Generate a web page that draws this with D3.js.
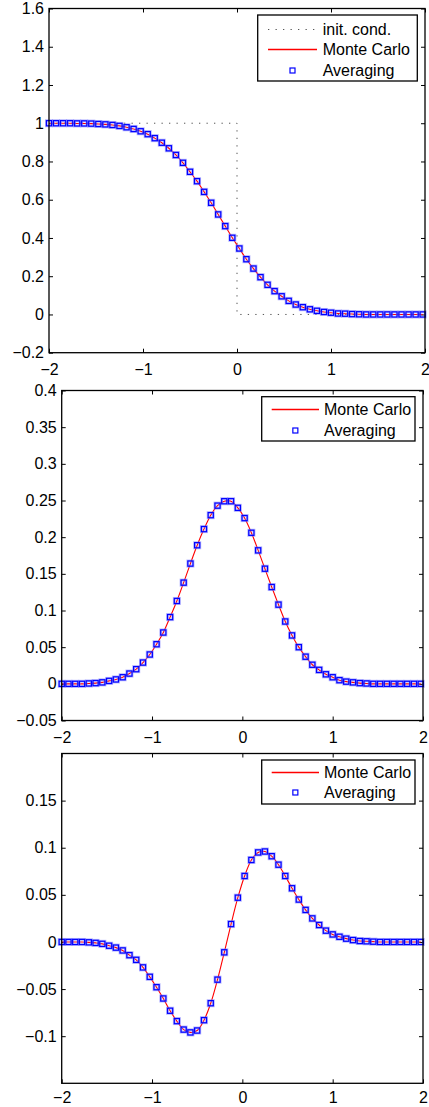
<!DOCTYPE html>
<html lang="en">
<head>
<meta charset="UTF-8">
<title>Monte Carlo vs Averaging</title>
<script src="https://d3js.org/d3.v7.min.js"></script>
<style>
  body { margin: 0; background: #fff; }
  svg text { font-family: "Liberation Sans", Arial, sans-serif; font-size: 16px; fill: #000; }
</style>
</head>
<body>
<svg id="chart" width="429" height="1107"></svg>
<script>
// grid points where the averaged solution is shown
const xGrid = [-2, -1.925, -1.85, -1.775, -1.7, -1.625, -1.55, -1.475, -1.4, -1.325,
  -1.25, -1.175, -1.1, -1.025, -0.95, -0.875, -0.8, -0.725, -0.65, -0.575,
  -0.5, -0.425, -0.35, -0.275, -0.2, -0.125, -0.05, 0.025, 0.1, 0.175,
  0.25, 0.325, 0.4, 0.475, 0.55, 0.625, 0.7, 0.775, 0.85, 0.925,
  1, 1.075, 1.15, 1.225, 1.3, 1.375, 1.45, 1.525, 1.6, 1.675,
  1.75, 1.825, 1.9, 1.975];

// panel 1: solution
const p1Avg = [1.000, 1.000, 1.000, 1.000, 0.999, 0.999, 0.998, 0.996, 0.994, 0.991,
  0.986, 0.979, 0.970, 0.958, 0.943, 0.922, 0.898, 0.869, 0.834, 0.793,
  0.746, 0.697, 0.641, 0.584, 0.523, 0.462, 0.401, 0.345, 0.289, 0.240,
  0.195, 0.155, 0.122, 0.095, 0.071, 0.052, 0.038, 0.027, 0.019, 0.013,
  0.009, 0.005, 0.004, 0.002, 0.001, 0, 0, 0, 0, 0,
  0, 0, 0, 0];
const p1MC = p1Avg;
const initX = [-2, 0, 0, 2];
const initY = [1, 1, 0, 0];

// panel 2
const p2Avg = [0, 0, 0, 0, 0.0005, 0.001, 0.002, 0.004, 0.006, 0.009,
  0.014, 0.020, 0.029, 0.040, 0.054, 0.070, 0.091, 0.113, 0.138, 0.164,
  0.189, 0.211, 0.230, 0.243, 0.249, 0.249, 0.240, 0.226, 0.206, 0.182,
  0.157, 0.132, 0.108, 0.085, 0.066, 0.050, 0.037, 0.026, 0.019, 0.013,
  0.009, 0.005, 0.003, 0.002, 0.001, 0.0005, 0, 0, 0, 0,
  0, 0, 0, 0];
const p2MC = p2Avg;

// panel 3
const p3Avg = [0, 0, 0, 0, -0.0004, -0.001, -0.002, -0.004, -0.006, -0.009,
  -0.014, -0.019, -0.027, -0.037, -0.048, -0.060, -0.073, -0.084, -0.093, -0.096,
  -0.094, -0.083, -0.065, -0.040, -0.011, 0.019, 0.047, 0.070, 0.087, 0.095,
  0.096, 0.091, 0.082, 0.070, 0.057, 0.045, 0.034, 0.025, 0.018, 0.012,
  0.008, 0.0055, 0.0035, 0.002, 0.001, 0.0007, 0.0003, 0, 0, 0,
  0, 0, 0, 0];
const p3MC = p3Avg;

const xTicks = [-2, -1, 0, 1, 2];
const yTicks1 = [-0.2, 0, 0.2, 0.4, 0.6, 0.8, 1, 1.2, 1.4, 1.6];
const yTicks2 = [-0.05, 0, 0.05, 0.1, 0.15, 0.2, 0.25, 0.3, 0.35, 0.4];
const yTicks3 = [-0.1, -0.05, 0, 0.05, 0.1, 0.15];

const svg = d3.select("#chart");
const fmt = d => String(+d.toFixed(2)).replace("-", "\u2212");

function drawPanel(p) {
    const x = d3.scaleLinear().domain([-2, 2]).range([p.left, p.right]);
    const y = d3.scaleLinear().domain(p.yDomain).range([p.bottom, p.top]);
    const g = svg.append("g");
    const tl = 4;

    // ticks inward on all four sides
    g.append("g").attr("transform", "translate(0," + p.bottom + ")")
        .call(d3.axisBottom(x).tickValues(xTicks).tickSizeInner(-tl).tickSizeOuter(0).tickPadding(p.xPad).tickFormat(fmt));
    g.append("g").attr("transform", "translate(0," + p.top + ")")
        .call(d3.axisTop(x).tickValues(xTicks).tickSizeInner(-tl).tickSizeOuter(0).tickFormat(""));
    g.append("g").attr("transform", "translate(" + p.left + ",0)")
        .call(d3.axisLeft(y).tickValues(p.yTicks).tickSizeInner(-tl).tickSizeOuter(0).tickPadding(5).tickFormat(fmt));
    g.append("g").attr("transform", "translate(" + p.right + ",0)")
        .call(d3.axisRight(y).tickValues(p.yTicks).tickSizeInner(-tl).tickSizeOuter(0).tickFormat(""));
    g.selectAll(".domain").remove();
    g.selectAll(".tick line").attr("stroke", "#000");
    g.selectAll(".tick text").style("font-size", "16px").attr("fill", "#000");

    if (p.init) {
        const pts = p.init[0].map((v, i) => [v, p.init[1][i]]);
        g.append("path")
            .attr("d", d3.line().x(d => x(d[0])).y(d => y(d[1]))(pts))
            .attr("fill", "none").attr("stroke", "#555").attr("stroke-width", 1)
            .attr("stroke-dasharray", "1.3,6.2");
    }

    const mcPts = xGrid.map((v, i) => [v, p.mc[i]]);
    g.append("path")
        .attr("d", d3.line().curve(d3.curveCatmullRom).x(d => x(d[0])).y(d => y(d[1]))(mcPts))
        .attr("fill", "none").attr("stroke", "#ff0000").attr("stroke-width", 1.1);

    const s = 5.2;
    const avgPts = xGrid.map((v, i) => [v, p.avg[i]]);
    g.append("g").selectAll("rect").data(avgPts).join("rect")
        .attr("x", d => x(d[0]) - s / 2).attr("y", d => y(d[1]) - s / 2)
        .attr("width", s).attr("height", s)
        .attr("fill", "none").attr("stroke", "#7a7aff").attr("stroke-opacity", 0.55).attr("stroke-width", 2.8);
    g.append("g").selectAll("rect").data(avgPts).join("rect")
        .attr("x", d => x(d[0]) - s / 2).attr("y", d => y(d[1]) - s / 2)
        .attr("width", s).attr("height", s)
        .attr("fill", "none").attr("stroke", "#0000ff").attr("stroke-width", 1.2);

    // box
    g.append("rect")
        .attr("x", p.left).attr("y", p.top)
        .attr("width", p.right - p.left).attr("height", p.bottom - p.top)
        .attr("fill", "none").attr("stroke", "#000").attr("stroke-width", 1.3);

    // legend
    const L = p.legend;
    const lg = g.append("g");
    lg.append("rect")
        .attr("x", L.x0).attr("y", L.y0).attr("width", L.x1 - L.x0).attr("height", L.y1 - L.y0)
        .attr("fill", "#fff").attr("stroke", "#000").attr("stroke-width", 1.3);
    L.items.forEach((it, i) => {
        const cy = Math.round(L.rowY + i * L.rowH) + 0.5;
        if (it.kind === "dot") {
            lg.append("line").attr("x1", L.lineX0).attr("x2", L.lineX1).attr("y1", cy).attr("y2", cy)
                .style("stroke", "#555").style("stroke-dasharray", "1.3,6.2");
        } else if (it.kind === "line") {
            lg.append("line").attr("x1", L.lineX0).attr("x2", L.lineX1).attr("y1", cy).attr("y2", cy)
                .style("stroke", "#ff0000").style("stroke-width", 1.5);
        } else {
            const mx = (L.lineX0 + L.lineX1) / 2;
            lg.append("rect").attr("x", mx - 2.5).attr("y", cy - 2.5).attr("width", 5).attr("height", 5)
                .style("fill", "none").style("stroke", "#0000ff").style("stroke-width", 1.2);
        }
        lg.append("text").attr("x", L.textX).attr("y", cy).attr("dy", "0.35em")
            .style("font-size", "16px").text(it.label);
    });
}

drawPanel({
    left: 49, right: 425, top: 8.5, bottom: 352.7, xPad: 11,
    yDomain: [-0.2, 1.6], yTicks: yTicks1,
    mc: p1MC, avg: p1Avg, init: [initX, initY],
    legend: { x0: 257.7, x1: 417.3, y0: 15, y1: 81, rowY: 29, rowH: 20.3, lineX0: 268, lineX1: 317, textX: 322.7,
        items: [{ kind: "dot", label: "init. cond." }, { kind: "line", label: "Monte Carlo" }, { kind: "mark", label: "Averaging" }] }
});
drawPanel({
    left: 61.7, right: 423, top: 390.5, bottom: 720.5, xPad: 11,
    yDomain: [-0.05, 0.4], yTicks: yTicks2,
    mc: p2MC, avg: p2Avg,
    legend: { x0: 261.7, x1: 415, y0: 396.7, y1: 441, rowY: 409, rowH: 20.7, lineX0: 271.7, lineX1: 319, textX: 324,
        items: [{ kind: "line", label: "Monte Carlo" }, { kind: "mark", label: "Averaging" }] }
});
drawPanel({
    left: 61.7, right: 423, top: 753.5, bottom: 1083.3, xPad: 8.5,
    yDomain: [-0.15, 0.2], yTicks: yTicks3,
    mc: p3MC, avg: p3Avg,
    legend: { x0: 261.7, x1: 415, y0: 760, y1: 804, rowY: 772, rowH: 20.4, lineX0: 271.7, lineX1: 319, textX: 324,
        items: [{ kind: "line", label: "Monte Carlo" }, { kind: "mark", label: "Averaging" }] }
});
</script>
</body>
</html>
